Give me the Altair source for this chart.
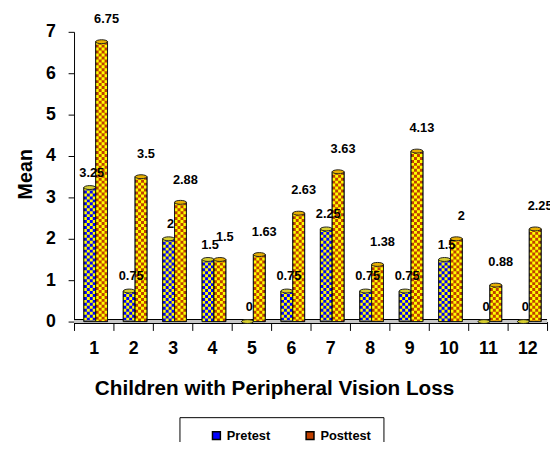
import altair as alt
import pandas as pd

# ---- data ----
children = [str(i) for i in range(1, 13)]
pretest = [3.25, 0.75, 2, 1.5, 0, 0.75, 2.25, 0.75, 0.75, 1.5, 0, 0]
posttest = [6.75, 3.5, 2.88, 1.5, 1.63, 2.63, 3.63, 1.38, 4.13, 2, 0.88, 2.25]
series_names = ["Pretest", "Posttest"]
y_ticks = [0, 1, 2, 3, 4, 5, 6, 7]

rows = []
for c, a, b in zip(children, pretest, posttest):
    rows.append({"child": c, "series": "Pretest", "value": a})
    rows.append({"child": c, "series": "Posttest", "value": b})
df = pd.DataFrame(rows)

# ---- styling ----
FONT = "Liberation Sans"
dark = {"Pretest": "#0000ff", "Posttest": "#c04000"}
checker = "#ffff00"
top_fill = {"Pretest": "#d8d030", "Posttest": "#e8b000"}
HALF = 20  # half of the 40px band step
bar_shift = {"Pretest": HALF - 4, "Posttest": HALF + 8}
label_shift = {"Pretest": (-2, -15), "Posttest": (13, -23)}
ellipse = "M -1 0 A 1 0.33 0 1 0 1 0 A 1 0.33 0 1 0 -1 0 Z"
CELL = 3

x_enc = alt.X(
    "child:N", sort=children,
    scale=alt.Scale(paddingInner=0, paddingOuter=0, round=True),
    axis=alt.Axis(
        title="Children with Peripheral Vision Loss",
        titleFont=FONT, titleFontSize=21, titleFontWeight="bold", titleColor="black",
        titleX=203, titleY=74, titleAlign="center", titleBaseline="alphabetic",
        labelFont=FONT, labelFontSize=18, labelFontWeight="bold", labelColor="black",
        labelAngle=0, labelPadding=9, tickBand="extent", tickSize=9,
        tickColor="black", domain=False, grid=False,
    ),
)
y_enc = alt.Y(
    "value:Q",
    scale=alt.Scale(domain=[0, 7], nice=False, round=True),
    axis=alt.Axis(
        title="Mean", values=y_ticks,
        titleFont=FONT, titleFontSize=20, titleFontWeight="bold", titleColor="black",
        titleX=-43, titleY=144, titleAngle=270, titleAlign="center",
        titleBaseline="alphabetic",
        labelFont=FONT, labelFontSize=18, labelFontWeight="bold", labelColor="black",
        labelPadding=13, tickSize=6, tickColor="black", domainColor="black",
        grid=False,
    ),
)

legend = alt.Legend(
    title=None, orient="none", legendX=107, legendY=391, direction="horizontal",
    strokeColor="black", fillColor="white", padding=12,
    symbolType="square", symbolSize=64, symbolStrokeColor="black",
    symbolStrokeWidth=1.5, symbolOffset=19, labelOffset=4,
    labelFont=FONT, labelFontSize=13, labelFontWeight="bold", labelColor="black",
    columnPadding=14,
)
color_enc = alt.Color(
    "series:N",
    scale=alt.Scale(domain=series_names, range=[dark[s] for s in series_names]),
    legend=legend,
)

base = alt.Chart(df)
floor_df = pd.DataFrame({"z": [0]})
layers = [
    alt.Chart(floor_df).mark_rule(color="black", strokeWidth=5).encode(y=alt.datum(0)),
    alt.Chart(floor_df).mark_rule(color="#c8c8c8", strokeWidth=3).encode(y=alt.datum(0)),
]
label_layers = []

for s in series_names:
    sub = base.transform_filter(alt.datum.series == s)
    sh = bar_shift[s]
    layers.append(
        sub.mark_bar(width=12, stroke="black", strokeWidth=1).encode(
            x=x_enc, y=y_enc, color=color_enc, xOffset=alt.value(sh)
        )
    )
    for c in range(12 // CELL):
        layers.append(
            sub.mark_rule(
                color=checker, strokeWidth=CELL, strokeDash=[CELL, CELL],
                strokeDashOffset=CELL * (c % 2),
            ).encode(
                x=x_enc, y=y_enc, y2=alt.datum(0),
                xOffset=alt.value(sh - 6 + CELL / 2 + CELL * c),
            )
        )
    layers.append(
        sub.mark_bar(width=12, fillOpacity=0, stroke="#1a1a1a", strokeWidth=1).encode(
            x=x_enc, y=y_enc, xOffset=alt.value(sh)
        )
    )
    layers.append(
        sub.mark_point(
            shape=ellipse, size=144, filled=True, fill=top_fill[s],
            stroke="#222222", strokeWidth=1, opacity=1,
        ).encode(x=x_enc, y=y_enc, xOffset=alt.value(sh))
    )
    dx, dy = label_shift[s]
    label_layers.append(
        sub.mark_text(
            font=FONT, fontSize=13, fontWeight="bold", color="black",
            dx=dx, dy=dy, baseline="middle", align="center",
        ).encode(x=x_enc, y=y_enc, text=alt.Text("value:Q", format="~g"))
    )

chart = (
    alt.layer(*(layers + label_layers))
    .properties(
        width=480, height=294, autosize="none",
        padding={"left": 67, "top": 21, "right": 3, "bottom": 119},
        background="white",
    )
    .configure_view(stroke=None)
)

chart.save("out.html", embed_options={"renderer": "svg", "actions": False})
